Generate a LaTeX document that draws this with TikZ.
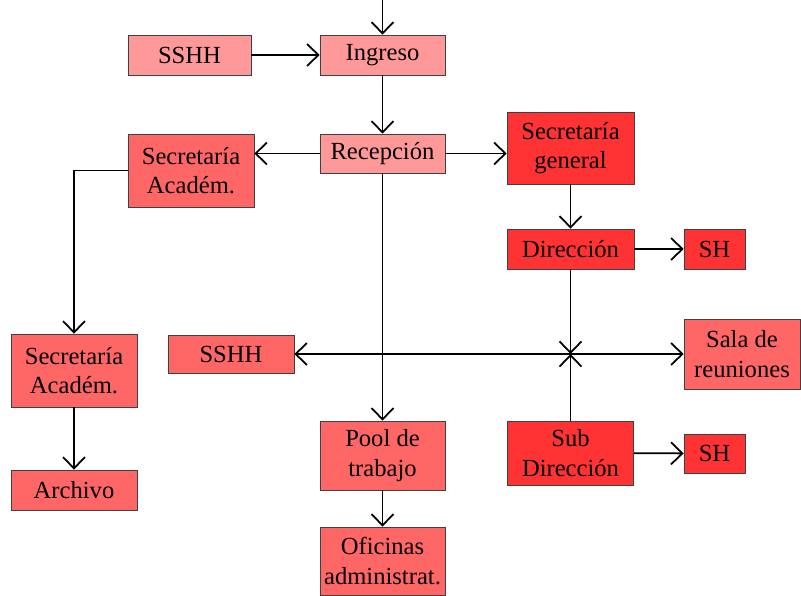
\documentclass[tikz,border=0pt]{standalone}
\usepackage{fontspec}
\setmainfont{Liberation Serif}
\usepackage{xcolor}
\usetikzlibrary{arrows.meta,positioning}
\definecolor{suave}{RGB}{255,153,153}
\definecolor{medio}{RGB}{255,102,102}
\definecolor{fuerte}{RGB}{255,51,51}

\begin{document}
\begin{tikzpicture}[x=0.03cm, y=-0.03cm]
    % Estilos
    \tikzstyle{area}=[rectangle, draw=black!75, line width=0.6pt, inner sep=0pt, align=center, font=\fontsize{21}{25}\selectfont, minimum width=3.75cm, minimum height=1.2cm]
    \tikzstyle{punta}=[Straight Barb[length=3.4mm, width=6.6mm]]
    \tikzstyle{flecha}=[-{Straight Barb[length=3.4mm, width=6.6mm]}, line width=1.5pt]
    \tikzstyle{doble}=[{Straight Barb[length=3.4mm, width=6.6mm]}-{Straight Barb[length=3.4mm, width=6.6mm]}, line width=1.5pt]
    \useasboundingbox (0,0) rectangle (801,596);

    % Nodos
    \coordinate (entrada) at (382.5,0);
    \node (ingreso) [area, fill=suave] at (382.5,55) {Ingreso};
    \node (sshhA) [area, fill=suave, minimum width=3.69cm] at (189.5,55) {SSHH};
    \node (recepcion) [area, fill=suave, minimum height=1.17cm] at (382.5,153.5) {Recepción};
    \node (secacadA) [area, fill=medio, minimum width=3.78cm, minimum height=2.19cm] at (191,170.5) {Secretaría\\Académ.};
    \node (secgeneral) [area, fill=fuerte, minimum width=3.81cm, minimum height=2.16cm] at (570.5,148) {Secretaría\\general};
    \node (direccion) [area, fill=fuerte, minimum width=3.81cm] at (570.5,249) {Dirección};
    \node (shA) [area, fill=fuerte, minimum width=1.83cm] at (714.5,249) {SH};
    \coordinate (cruce) at (570.5,354);
    \node (sala) [area, fill=medio, minimum width=3.48cm, minimum height=2.1cm] at (742,354) {Sala de\\reuniones};
    \node (sshhB) [area, fill=medio, minimum width=3.78cm, minimum height=1.14cm] at (231,354) {SSHH};
    \node (secacadB) [area, fill=medio, minimum width=3.78cm, minimum height=2.19cm] at (74,370.5) {Secretaría\\Académ.};
    \node (archivo) [area, fill=medio, minimum width=3.78cm] at (74,490) {Archivo};
    \node (pool) [area, fill=medio, minimum height=2.07cm] at (382.5,455.5) {Pool de\\trabajo};
    \node (oficinas) [area, fill=medio, minimum height=2.04cm] at (382.5,561) {Oficinas\\administrat.};
    \node (subdir) [area, fill=fuerte, minimum width=3.78cm, minimum height=1.92cm] at (570.5,453) {Sub\\Dirección};
    \node (shB) [area, fill=fuerte, minimum width=1.83cm, minimum height=1.17cm] at (714.5,453.5) {SH};

    % Conexiones
    \draw [flecha] (entrada) -- (ingreso);
    \draw [flecha] (sshhA) -- (ingreso);
    \draw [flecha] (ingreso) -- (recepcion);
    \draw [flecha] (recepcion) -- (secacadA.east |- recepcion);
    \draw [flecha] (recepcion) -- (secgeneral.west |- recepcion);
    \draw [flecha] (recepcion) -- (pool);
    \draw [flecha] (pool) -- (oficinas);
    \draw [flecha] (secacadA.west) -| (secacadB.north);
    \draw [flecha] (secacadB) -- (archivo);
    \draw [flecha] (secgeneral) -- (direccion);
    \draw [flecha] (direccion) -- (shA);
    \draw [flecha] (direccion) -- (cruce);
    \draw [flecha] (subdir) -- (cruce);
    \draw [doble] (sshhB) -- (sala);
    \draw [flecha] (subdir) -- (shB);
\end{tikzpicture}
\end{document}
